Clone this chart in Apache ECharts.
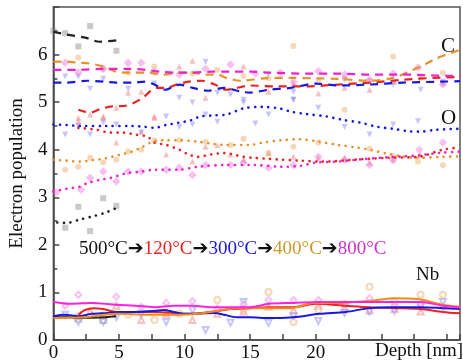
<!DOCTYPE html>
<html>
<head>
<meta charset="utf-8">
<script src="https://cdn.jsdelivr.net/npm/echarts@6/dist/echarts.min.js"></script>
<style>
  html, body { margin: 0; padding: 0; background: #fff; }
  #chart { width: 463px; height: 363px; }
</style>
</head>
<body>
<div id="chart"></div>
<script>
// axis ticks
const xTicks = [0, 5, 10, 15, 20]
const yTicks = [0, 1, 2, 3, 4, 5, 6]
const temps = ['500°C', '120°C', '300°C', '400°C', '800°C']

// C: dashed lines [depth, population]
const c500Line = [[0, 6.48], [1, 6.42], [2.5, 6.35], [3.5, 6.27], [4.8, 6.3]]
const c120Line = [[1.9, 4.84], [2.8, 4.78], [3.6, 4.86], [4.5, 4.91], [5.6, 4.93], [6.7, 5.07], [7.9, 5.3], [8.6, 5.3], [9.4, 5.37], [10.3, 5.43], [11.3, 5.45], [12.3, 5.37], [13.2, 5.26], [14, 5.3], [15, 5.35], [16.9, 5.33], [19.3, 5.33], [21.7, 5.37], [24.1, 5.41], [26.6, 5.47], [29, 5.51], [31, 5.53]]
const c300Line = [[0, 5.41], [0.9, 5.41], [2.6, 5.45], [3.8, 5.43], [4.8, 5.41], [6, 5.41], [7, 5.43], [7.7, 5.37], [8.5, 5.26], [9.6, 5.37], [10.6, 5.3], [11.8, 5.24], [13, 5.3], [14.3, 5.22], [15, 5.2], [16.4, 5.26], [18.1, 5.3], [20, 5.39], [21.7, 5.35], [24.1, 5.37], [26.6, 5.41], [29.5, 5.43], [31, 5.44]]
const c400Line = [[0, 5.85], [1, 5.85], [1.9, 5.83], [2.8, 5.81], [3.8, 5.75], [4.8, 5.64], [5.7, 5.62], [7.2, 5.62], [8.4, 5.58], [9.6, 5.62], [10.6, 5.62], [11.6, 5.58], [12.5, 5.58], [13.2, 5.51], [14.3, 5.45], [16, 5.5], [18.1, 5.51], [20, 5.5], [21.7, 5.49], [24.1, 5.45], [25.9, 5.51], [27.1, 5.64], [28.3, 5.79], [29.2, 5.92], [31, 6.1]]
const c800Line = [[0, 5.68], [1.9, 5.68], [3.8, 5.7], [5.7, 5.7], [7, 5.68], [8.1, 5.64], [9.6, 5.62], [10.6, 5.62], [12, 5.64], [13.5, 5.64], [15, 5.64], [16.4, 5.62], [19.3, 5.6], [21.7, 5.6], [24.1, 5.58], [26.6, 5.58], [29, 5.56], [31, 5.55]]

// C: measured points
const c500Pts = [[0, 6.5], [0.9, 6.45], [1.9, 6.17], [2.8, 6.6], [4.8, 6.08]]
const c120Pts = [[1.9, 4.67], [2.8, 4.74], [3.8, 4.7], [4.8, 4.88], [5.7, 5.2], [6.7, 5.22], [7.7, 4.7], [9.6, 5.75], [10.6, 5.87], [11.6, 5.09], [14.5, 5.75], [16.4, 5.22], [18.3, 5.4], [20.2, 5.18], [22.2, 5.3], [24.1, 5.26], [26, 5.43], [29.7, 5.41]]
const c300Pts = [[0.9, 5.54], [1.9, 5.54], [2.8, 5.28], [3.8, 5.49], [5.7, 5.28], [7.7, 5.39], [9.6, 5.09], [10.6, 4.99], [11.6, 5.85], [12.5, 5.2], [13.5, 5.16], [14.5, 5.05], [16.4, 5.58], [18.3, 5.05], [18.3, 5.22], [22.2, 5.47], [25.9, 5.37], [28, 5.26], [29.7, 5.43]]
const c400Pts = [[1.9, 5.94], [3.8, 5.7], [5.7, 5.62], [7.7, 5.75], [10.6, 5.6], [12.5, 5.68], [14.5, 5.55], [16.4, 5.5], [18.3, 6.18], [20.2, 5.45], [22.2, 5.5], [24.1, 5.45], [25.9, 5.96], [28, 5.5], [29.7, 5.62]]
const c800Pts = [[0.9, 5.83], [1.9, 5.62], [3.8, 5.7], [5.7, 5.83], [6.7, 5.83], [7.7, 5.64], [9.6, 5.58], [11.6, 5.7], [13.5, 5.79], [15.4, 5.6], [17.3, 5.62], [18.3, 5.43], [20.2, 5.65], [22.2, 5.58], [24.1, 5.47], [25.9, 5.6], [27.8, 5.73], [29.7, 5.37]]

// O: dotted lines
const o500Line = [[0.3, 2.47], [1, 2.46], [2, 2.53], [3, 2.6], [4, 2.68], [5, 2.8]]
const o120Line = [[1.9, 4.46], [3.3, 4.42], [4.3, 4.36], [5.3, 4.36], [6.2, 4.32], [7.2, 4.27], [7.7, 4.15], [8.6, 4.1], [9.6, 4.0], [10.3, 3.9], [11, 3.85], [12, 3.9], [13, 3.93], [13.7, 3.9], [14.5, 3.85], [15.2, 3.83], [16.4, 3.81], [17.4, 3.79], [18.8, 3.77], [20.5, 3.75], [23, 3.79], [25.4, 3.83], [27.8, 3.85], [29.7, 4.0], [31, 4.05]]
const o300Line = [[0, 4.53], [1, 4.52], [2, 4.5], [4, 4.5], [6, 4.5], [7, 4.48], [7.7, 4.46], [8.6, 4.52], [9.6, 4.57], [10.5, 4.62], [11.2, 4.7], [12.2, 4.72], [13.2, 4.74], [14.5, 4.87], [15.9, 4.9], [17.2, 4.87], [18.1, 4.8], [19.3, 4.75], [20.8, 4.7], [22, 4.63], [23.4, 4.57], [24.7, 4.48], [25.9, 4.44], [27, 4.39], [28, 4.38], [29.2, 4.42], [31, 4.44]]
const o400Line = [[0, 3.79], [1, 3.77], [2, 3.75], [3, 3.78], [4, 3.82], [5, 3.89], [6, 3.96], [6.7, 4.05], [7.7, 4.18], [8.6, 4.2], [9.6, 4.2], [11, 4.17], [12.2, 4.12], [13.2, 4.1], [15, 4.1], [16, 4.15], [17.4, 4.2], [18.8, 4.22], [20, 4.18], [21.7, 4.1], [23, 4.05], [24.1, 4.0], [25.4, 3.92], [26.6, 3.86], [27.8, 3.83], [29.7, 3.85], [31, 3.86]]
const o800Line = [[0, 3.12], [1, 3.18], [2, 3.22], [2.6, 3.3], [3.6, 3.37], [4.4, 3.41], [5.5, 3.5], [6.7, 3.54], [7.7, 3.58], [9.6, 3.58], [11, 3.64], [13.2, 3.68], [15.2, 3.68], [17.4, 3.64], [18.8, 3.66], [20, 3.73], [21.7, 3.75], [23.5, 3.8], [25.4, 3.84], [27.8, 3.88], [29.7, 3.94], [31, 3.96]]

// O: measured points
const o500Pts = [[0.9, 2.36], [1.9, 2.8], [2.8, 2.29], [3.8, 2.98], [4.8, 2.82]]
const o120Pts = [[1.9, 4.6], [3.8, 4.67], [4.8, 4.15], [6.7, 4.38], [7.7, 4.67], [8.6, 3.9], [10.6, 3.75], [11.6, 4.06], [12.5, 4.1], [13.5, 3.9], [14.5, 3.79], [16.4, 3.93], [18.3, 3.85], [20.2, 3.83], [22.2, 3.83], [24.1, 3.73], [25.9, 3.79], [28, 3.89]]
const o300Pts = [[0.9, 4.32], [1.9, 4.5], [2.8, 4.32], [3.8, 4.57], [4.8, 4.53], [6.7, 4.36], [8.6, 4.7], [9.6, 4.48], [10.6, 4.53], [11.6, 4.74], [12.5, 4.59], [14.5, 4.99], [15.4, 4.55], [16.4, 4.74], [18.3, 5.05], [20.2, 4.88], [22.2, 4.48], [24.1, 4.32], [25.9, 4.53], [27.8, 4.6]]
const o400Pts = [[0.9, 3.58], [1.9, 3.64], [2.8, 3.83], [3.8, 3.73], [4.8, 3.79], [5.7, 3.96], [6.7, 4.0], [7.7, 4.2], [9.6, 4.2], [11.6, 4.17], [13.5, 4.1], [14.5, 4.23], [16.4, 3.93], [18.3, 4.06], [20.2, 4.15], [22.2, 4.84], [24.1, 4.02], [25.9, 3.86], [27.8, 3.75], [29.7, 3.68]]
const o800Pts = [[0.2, 3.1], [2.1, 3.16], [2.8, 3.41], [3.8, 3.54], [4.8, 3.33], [5.7, 3.54], [6.7, 3.54], [8.6, 3.58], [9.6, 3.62], [10.6, 3.47], [11.6, 3.68], [13.5, 3.68], [14.5, 3.73], [16.4, 3.62], [18.3, 3.68], [20.2, 3.85], [22.2, 3.79], [24.1, 3.68], [25.9, 3.79], [27.9, 4.0], [29.7, 4.15]]

// Nb: solid lines
const nb500Line = [[0, 0.48], [1, 0.48], [2, 0.47], [3, 0.47], [4, 0.48], [4.8, 0.5]]
const nb120Line = [[1.9, 0.53], [2.4, 0.63], [3.1, 0.67], [3.8, 0.65], [4.8, 0.59], [6.2, 0.59], [7.7, 0.59], [9.2, 0.57], [10.1, 0.55], [11.3, 0.57], [12.5, 0.61], [13.5, 0.65], [15, 0.67], [16.4, 0.69], [18.3, 0.69], [20, 0.76], [22.3, 0.72], [24.1, 0.69], [26.1, 0.67], [28, 0.65], [29.7, 0.59], [31, 0.56]]
const nb300Line = [[0, 0.5], [0.9, 0.53], [1.9, 0.5], [2.9, 0.55], [4.1, 0.57], [5, 0.59], [6.2, 0.59], [7.7, 0.61], [8.4, 0.63], [9.2, 0.59], [9.9, 0.55], [11, 0.55], [12.3, 0.57], [13, 0.53], [14, 0.48], [15, 0.48], [16.4, 0.46], [18.3, 0.48], [20.3, 0.55], [22.3, 0.59], [24.1, 0.67], [26.1, 0.69], [28, 0.69], [29.7, 0.67], [31, 0.65]]
const nb400Line = [[0, 0.46], [2.4, 0.48], [4.8, 0.55], [7.2, 0.53], [9.6, 0.53], [11, 0.55], [12.5, 0.61], [13.9, 0.67], [15, 0.67], [16.4, 0.67], [18.1, 0.67], [19.8, 0.78], [21.8, 0.78], [24.1, 0.82], [25.9, 0.88], [27.8, 0.86], [29.7, 0.74], [31, 0.7]]
const nb800Line = [[0, 0.8], [1.4, 0.76], [2.9, 0.78], [4.8, 0.74], [6.2, 0.72], [7.7, 0.69], [9.2, 0.72], [10.6, 0.72], [12, 0.69], [13.5, 0.69], [15, 0.69], [16.4, 0.76], [18.3, 0.78], [20.3, 0.8], [22.3, 0.8], [24.1, 0.8], [26.1, 0.8], [28, 0.8], [29.7, 0.72], [31, 0.68]]

// Nb: measured points (hollow)
const nb500Pts = [[1.9, 0.45], [3.8, 0.42]]
const nb120Pts = [[2.8, 0.6], [4.8, 0.72], [6.7, 0.42], [8.6, 0.55], [10.6, 0.42], [12.5, 0.55], [14.5, 0.6], [16.4, 0.7], [18.3, 0.62], [20.2, 0.72], [22.2, 0.68], [24.1, 0.62], [26, 0.65], [28, 0.6]]
const nb300Pts = [[0.9, 0.53], [1.9, 0.38], [3.8, 0.38], [4.8, 0.48], [6.7, 0.55], [8.6, 0.38], [10.6, 0.62], [11.6, 0.21], [13.5, 0.36], [14.5, 0.8], [16.4, 0.36], [18.3, 0.5], [20.2, 0.4], [22.2, 0.57], [24.1, 0.6], [26, 0.61], [28, 0.7], [29.7, 0.8]]
const nb400Pts = [[1.9, 0.5], [3.8, 0.52], [5.7, 0.53], [7.7, 0.42], [9.6, 0.55], [12.5, 0.84], [14.5, 0.65], [16.4, 1.01], [18.3, 0.38], [20.2, 0.63], [22.2, 0.75], [24.1, 1.12], [26, 0.8], [28, 0.95], [29.7, 0.95]]
const nb800Pts = [[0.9, 0.72], [1.9, 0.95], [4.8, 0.91], [6.7, 0.7], [8.6, 0.78], [10.6, 0.82], [12.5, 0.67], [14.5, 0.75], [16.4, 0.84], [18.3, 0.84], [20.2, 0.84], [22.2, 0.75], [24.1, 0.88], [26, 0.72], [28, 0.75], [29.7, 0.69]]

const SERIF = '"Liberation Serif", "DejaVu Serif", serif'
const lineColors = ['#222222', '#ee2020', '#1818e0', '#e8902a', '#ee22cc']
const nbColors = ['#222222', '#ee2020', '#1818e0', '#f08a1a', '#ff22dd']
const ptColors = ['#888888', '#f07070', '#8080f0', '#e8a860', '#f070e0']
const ptSymbols = ['rect', 'triangle', 'triangle', 'circle', 'rect']
const ptRotate = [0, 0, 180, 0, 45]
const nbSymbols = ['emptyRect', 'emptyTriangle', 'emptyTriangle', 'emptyCircle', 'emptyDiamond']

const cLines = [c500Line, c120Line, c300Line, c400Line, c800Line]
const cPts = [c500Pts, c120Pts, c300Pts, c400Pts, c800Pts]
const oLines = [o500Line, o120Line, o300Line, o400Line, o800Line]
const oPts = [o500Pts, o120Pts, o300Pts, o400Pts, o800Pts]
const nbLines = [nb500Line, nb120Line, nb300Line, nb400Line, nb800Line]
const nbPts = [nb500Pts, nb120Pts, nb300Pts, nb400Pts, nb800Pts]

const series = []
temps.forEach((t, i) => {
    // scatter first so lines sit on top
    series.push({
        name: t + ' C pts', type: 'scatter', data: cPts[i],
        symbol: ptSymbols[i], symbolRotate: ptRotate[i], symbolSize: 6,
        itemStyle: { color: ptColors[i], opacity: 0.45 }, z: 2
    })
    series.push({
        name: t + ' O pts', type: 'scatter', data: oPts[i],
        symbol: ptSymbols[i], symbolRotate: ptRotate[i], symbolSize: 6,
        itemStyle: { color: ptColors[i], opacity: 0.45 }, z: 2
    })
    series.push({
        name: t + ' Nb pts', type: 'scatter', data: nbPts[i],
        symbol: nbSymbols[i], symbolRotate: ptRotate[i] === 180 ? 180 : 0, symbolSize: 6,
        itemStyle: { color: ptColors[i], borderColor: ptColors[i], borderWidth: 1, opacity: 0.45 }, z: 2
    })
    series.push({
        name: t + ' C', type: 'line', data: cLines[i], showSymbol: false, smooth: 0.3,
        lineStyle: { color: lineColors[i], width: 2.2, type: [8, 6] }, z: 3
    })
    series.push({
        name: t + ' O', type: 'line', data: oLines[i], showSymbol: false, smooth: 0.3,
        lineStyle: { color: lineColors[i], width: 2.6, type: [0.1, 6.5], cap: 'round' }, z: 3
    })
    series.push({
        name: t + ' Nb', type: 'line', data: nbLines[i], showSymbol: false, smooth: 0.3,
        lineStyle: { color: nbColors[i], width: 2 }, z: 3
    })
})

const chart = echarts.init(document.getElementById('chart'))
chart.setOption({
    animation: false,
    grid: { left: 51, top: 7, bottom: 23, right: -14, show: true, borderColor: '#555', borderWidth: 1.5 },
    xAxis: {
        type: 'value', min: 0, max: 31, interval: 5,
        axisLine: { lineStyle: { color: '#444', width: 1.5 } },
        axisTick: { inside: true, length: 6, lineStyle: { color: '#444', width: 1.5 } },
        minorTick: { show: true, splitNumber: 2, length: 6, lineStyle: { color: '#444', width: 1.5 } },
        splitLine: { show: false },
        axisLabel: {
            margin: 4, color: '#111', fontFamily: SERIF, fontSize: 19,
            formatter: v => xTicks.includes(v) ? String(v) : ''
        }
    },
    yAxis: {
        type: 'value', min: 0, max: 7, interval: 1,
        name: 'Electron population', nameLocation: 'middle', nameGap: 26,
        nameTextStyle: { color: '#111', fontFamily: SERIF, fontSize: 19 },
        axisLine: { lineStyle: { color: '#444', width: 1.5 } },
        axisTick: { inside: true, length: 6, lineStyle: { color: '#444', width: 1.5 } },
        minorTick: { show: true, splitNumber: 2, length: 4, lineStyle: { color: '#444', width: 1.5 } },
        splitLine: { show: false },
        axisLabel: {
            margin: 6, color: '#111', fontFamily: SERIF, fontSize: 19,
            formatter: v => yTicks.includes(v) ? String(v) : ''
        }
    },
    graphic: [
        {
            type: 'text', left: 79, top: 240,
            style: {
                text: '{k|500°C}{a|➔}{r|120°C}{a|➔}{b|300°C}{a|➔}{o|400°C}{a|➔}{m|800°C}',
                rich: {
                    k: { fill: '#111', fontFamily: SERIF, fontSize: 19 },
                    r: { fill: '#ee2020', fontFamily: SERIF, fontSize: 19 },
                    b: { fill: '#1818e0', fontFamily: SERIF, fontSize: 19 },
                    o: { fill: '#c89a2a', fontFamily: SERIF, fontSize: 19 },
                    m: { fill: '#cc33cc', fontFamily: SERIF, fontSize: 19 },
                    a: { fill: '#111', fontFamily: '"DejaVu Sans", sans-serif', fontSize: 19, fontWeight: 'bold' }
                }
            }
        },
        { type: 'text', left: 441, top: 36, style: { text: 'C', fill: '#111', font: '21px ' + SERIF } },
        { type: 'text', left: 441, top: 108, style: { text: 'O', fill: '#111', font: '21px ' + SERIF } },
        { type: 'text', left: 416, top: 266, style: { text: 'Nb', fill: '#111', font: '19px ' + SERIF } },
        { type: 'text', left: 375, top: 342, style: { text: 'Depth [nm]', fill: '#111', font: '19px ' + SERIF } }
    ],
    series
})
</script>
</body>
</html>
